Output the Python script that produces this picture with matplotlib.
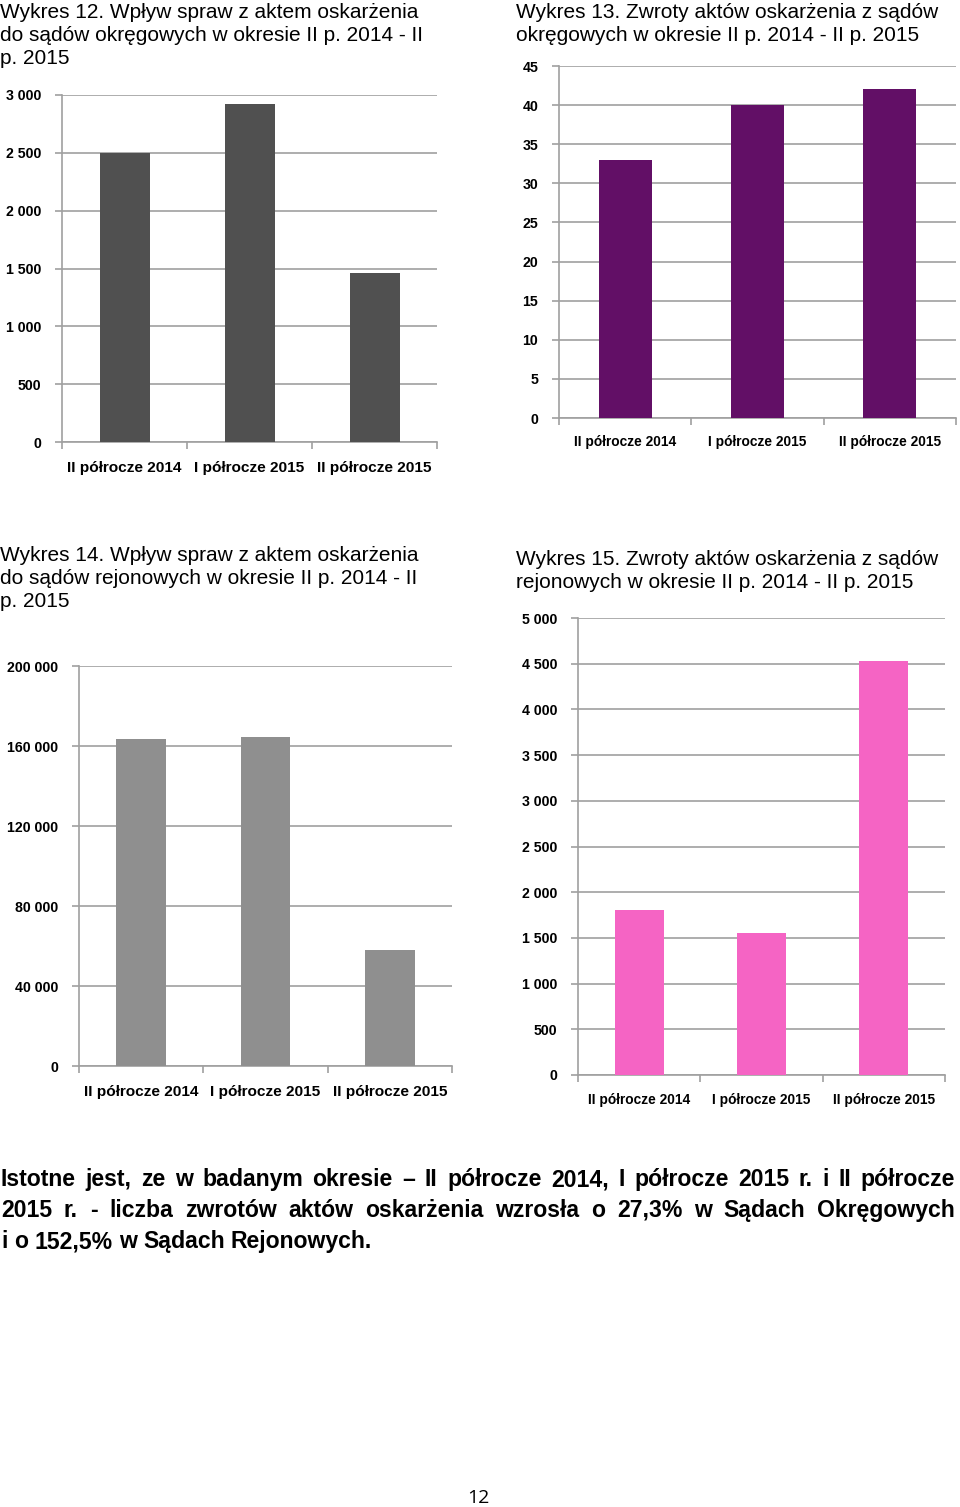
import matplotlib
matplotlib.use("Agg")
import matplotlib.pyplot as plt
from matplotlib.ticker import FixedLocator

W, H = 960, 1507
DPI = 100

categories = ["II półrocze 2014", "I półrocze 2015", "II półrocze 2015"]

values_12 = [2497, 2920, 1460]
values_13 = [33, 40, 42]
values_14 = [163500, 164300, 58000]
values_15 = [1800, 1556, 4535]

ticks_12 = [0, 500, 1000, 1500, 2000, 2500, 3000]
ticks_13 = [0, 5, 10, 15, 20, 25, 30, 35, 40, 45]
ticks_14 = [0, 40000, 80000, 120000, 160000, 200000]
ticks_15 = [0, 500, 1000, 1500, 2000, 2500, 3000, 3500, 4000, 4500, 5000]

title_12 = "Wykres 12. Wpływ spraw z aktem oskarżenia\ndo sądów okręgowych w okresie II p. 2014 - II\np. 2015"
title_13 = "Wykres 13. Zwroty aktów oskarżenia z sądów\nokręgowych w okresie II p. 2014 - II p. 2015"
title_14 = "Wykres 14. Wpływ spraw z aktem oskarżenia\ndo sądów rejonowych w okresie II p. 2014 - II\np. 2015"
title_15 = "Wykres 15. Zwroty aktów oskarżenia z sądów\nrejonowych w okresie II p. 2014 - II p. 2015"

body_lines = [
    "Istotne jest, ze w badanym okresie – II półrocze 2014, I półrocze 2015 r. i II półrocze",
    "2015 r. - liczba zwrotów aktów oskarżenia wzrosła o 27,3% w Sądach Okręgowych",
    "i o 152,5% w Sądach Rejonowych.",
]
page_number = "12"

NARROW = ["Liberation Sans Narrow", "Liberation Sans", "DejaVu Sans"]
SANS = ["Liberation Sans", "DejaVu Sans"]
GRID = "#a0a0a0"

fig = plt.figure(figsize=(W / DPI, H / DPI), dpi=DPI)
fig.patch.set_facecolor("white")


def ax_px(l, t, r, b):
    return fig.add_axes([l / W, 1 - b / H, (r - l) / W, (b - t) / H])


def fmt(v):
    return f"{v:,}".replace(",", " ")


def bar_chart(box, values, ticks, color, xfs, yfs=10.2, xpad=6):
    ax = ax_px(*box)
    x = list(range(len(categories)))
    ax.bar(x, values, width=0.4, color=color, zorder=3)
    ax.set_xlim(-0.5, len(categories) - 0.5)
    ax.set_ylim(ticks[0], ticks[-1])
    ax.yaxis.set_major_locator(FixedLocator(ticks))
    ax.set_yticklabels([fmt(t) for t in ticks], fontfamily=NARROW,
                       fontweight="bold", fontsize=yfs)
    ax.set_xticks(x)
    ax.set_xticklabels(categories, fontfamily=NARROW, fontweight="bold",
                       fontsize=xfs)
    ax.set_xticks([i - 0.5 for i in range(len(categories) + 1)], minor=True)
    ax.tick_params(axis="x", which="major", length=0, pad=xpad)
    ax.tick_params(axis="x", which="minor", length=5, width=1.2, color=GRID,
                   direction="out")
    ax.tick_params(axis="y", length=5, width=1.2, color=GRID, pad=10)
    ax.grid(axis="y", color=GRID, linewidth=1.2, zorder=0)
    for s in ("top", "right"):
        ax.spines[s].set_visible(False)
    for s in ("left", "bottom"):
        ax.spines[s].set_color(GRID)
        ax.spines[s].set_linewidth(1.2)
    ax.set_facecolor("none")
    return ax


bar_chart((62, 95, 437, 442), values_12, ticks_12, "#505050", xfs=11.1, xpad=14)
bar_chart((559, 66, 956, 418), values_13, ticks_13, "#620f66", xfs=9.9, xpad=12)
bar_chart((79, 666, 452, 1066), values_14, ticks_14, "#8f8f8f", xfs=11.1, xpad=14)
bar_chart((578, 618, 945, 1075), values_15, ticks_15, "#f564c4", xfs=9.9, xpad=13)


def title(x, y, s):
    fig.text(x / W, 1 - y / H, s, ha="left", va="top", fontfamily=SANS,
             fontsize=15, linespacing=1.28)


title(0, 3, title_12)
title(516, 3, title_13)
title(0, 546, title_14)
title(516, 550, title_15)

# justified body text
renderer = fig.canvas.get_renderer()
BODY_FS = 16.6
left, right = 1, 955
baselines = [1186, 1217, 1248]
space_t = fig.text(0, 0, "a a", fontfamily=SANS, fontweight="bold", fontsize=BODY_FS)
aa = fig.text(0, 0, "aa", fontfamily=SANS, fontweight="bold", fontsize=BODY_FS)
space_w = space_t.get_window_extent(renderer).width - aa.get_window_extent(renderer).width
space_t.remove()
aa.remove()
for li, (line, y) in enumerate(zip(body_lines, baselines)):
    words = line.split(" ")
    texts = [fig.text(0, 1 - y / H, w, ha="left", va="baseline", fontfamily=SANS,
                      fontweight="bold", fontsize=BODY_FS) for w in words]
    widths = [t.get_window_extent(renderer).width for t in texts]
    if li < len(body_lines) - 1:
        gap = (right - left - sum(widths)) / (len(words) - 1)
    else:
        gap = space_w
    xpos = left
    for t, w in zip(texts, widths):
        t.set_x(xpos / W)
        xpos += w + gap

fig.text(478 / W, 1 - 1498 / H, page_number, ha="center", va="center",
         fontfamily=["Open Sans", "DejaVu Sans"], fontsize=14)

fig.savefig("out.png", dpi=DPI, facecolor="white")
